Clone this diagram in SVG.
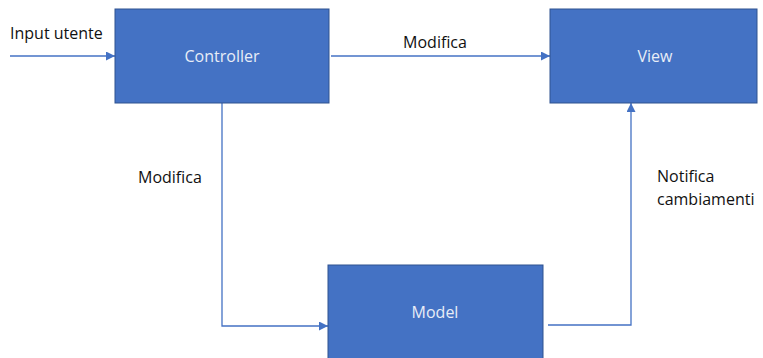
<svg xmlns="http://www.w3.org/2000/svg" width="763" height="358" viewBox="0 0 763 358">
  <style>
    .box { fill: #4472C4; stroke: #2F528F; stroke-width: 1; }
    .wire { fill: none; stroke: #4472C4; stroke-width: 1.3; }
    .lbl { font-family: "Open Sans", "Liberation Sans", sans-serif; font-size: 16px; fill: #111111; }
    .name { font-family: "Open Sans", "Liberation Sans", sans-serif; font-size: 16px; fill: #E8EDF7; text-anchor: middle; }
  </style>
  <defs>
    <marker id="arrow" viewBox="0 0 10 10" refX="10" refY="5" markerWidth="9" markerHeight="9" markerUnits="userSpaceOnUse" orient="auto">
      <path d="M0,0 L10,5 L0,10 z" fill="#4472C4"/>
    </marker>
  </defs>
  <rect width="763" height="358" fill="#FFFFFF"/>

  <g id="connectors">
    <line class="wire" x1="10" y1="56" x2="115" y2="56" marker-end="url(#arrow)"/>
    <line class="wire" x1="331" y1="56" x2="550" y2="56" marker-end="url(#arrow)"/>
    <polyline class="wire" points="222,103 222,326 328,326" marker-end="url(#arrow)"/>
    <polyline class="wire" points="548,325 631,325 631,103" marker-end="url(#arrow)"/>
    <text class="lbl" x="10" y="39">Input utente</text>
    <text class="lbl" x="435" y="48" text-anchor="middle">Modifica</text>
    <text class="lbl" x="138" y="183">Modifica</text>
    <text class="lbl" x="657" y="182">Notifica</text>
    <text class="lbl" x="657" y="205">cambiamenti</text>
  </g>

  <g id="controller">
    <rect class="box" x="115" y="9" width="214" height="94"/>
    <text class="name" x="222" y="62">Controller</text>
  </g>

  <g id="view">
    <rect class="box" x="550" y="9" width="207" height="94"/>
    <text class="name" x="655" y="62">View</text>
  </g>

  <g id="model">
    <rect class="box" x="328" y="265" width="215" height="100"/>
    <text class="name" x="435" y="318">Model</text>
  </g>
</svg>
